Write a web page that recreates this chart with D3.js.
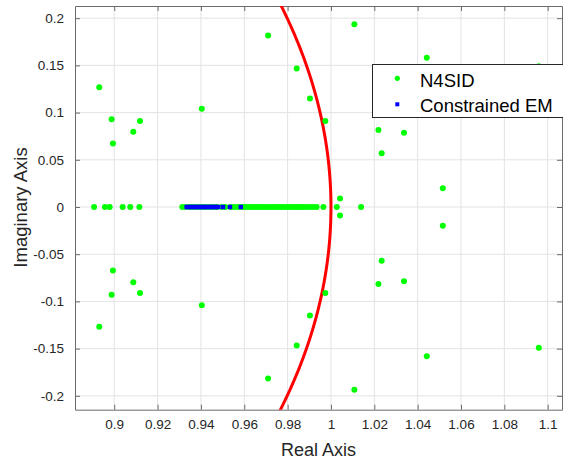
<!DOCTYPE html>
<html><head><meta charset="utf-8">
<script src="https://cdn.jsdelivr.net/npm/d3@7"></script>
<style>body{margin:0;background:#fff}svg{display:block}text{font-family:"Liberation Sans",Arial,Helvetica,sans-serif}</style>
</head><body>
<svg id="c" width="563" height="460"></svg>
<script>
// ---- data ----
const xTicks = [0.9, 0.92, 0.94, 0.96, 0.98, 1, 1.02, 1.04, 1.06, 1.08, 1.1];
const yTicks = [-0.2, -0.15, -0.1, -0.05, 0, 0.05, 0.1, 0.15, 0.2];
const xTickLabels = ["0.9","0.92","0.94","0.96","0.98","1","1.02","1.04","1.06","1.08","1.1"];
const yTickLabels = ["-0.2","-0.15","-0.1","-0.05","0","0.05","0.1","0.15","0.2"];
const seriesNames = ["N4SID", "Constrained EM"];
// N4SID real poles
const n4sidReal = [0.8907, 0.8957, 0.8979, 0.9039, 0.9074, 0.9116,
  0.9314, 0.9331, 0.9348, 0.9362, 0.9377, 0.9395, 0.9409, 0.9423, 0.9441, 0.9458,
  0.9474, 0.9497, 0.9512, 0.9536, 0.9551, 0.9566, 0.9580, 0.9594, 0.9607, 0.9621,
  0.9633, 0.9648, 0.9661, 0.9675, 0.9688, 0.9702, 0.9715, 0.9729, 0.9742, 0.9756,
  0.9769, 0.9783, 0.9796, 0.9810, 0.9823, 0.9837, 0.9850, 0.9862, 0.9873,
  0.9888, 0.9903, 0.9919, 0.9934, 0.9965, 1.0027, 1.0139];
// N4SID complex poles (conjugate pairs)
const n4sidCplxRe = [0.8931, 0.8988, 0.8994, 0.9088, 0.9119, 0.9404, 0.9710, 0.9842, 0.9903,
  0.9974, 1.0042, 1.0108, 1.0219, 1.0234, 1.0337, 1.0442, 1.0516, 1.0959];
const n4sidCplxIm = [0.1268, 0.0929, 0.0673, 0.0796, 0.0910, 0.1040, 0.1817, 0.1467, 0.1149,
  0.0910, 0.0090, 0.1937, 0.0816, 0.0569, 0.0787, 0.1580, 0.0198, 0.1490];
// Constrained EM poles (all real)
const emReal = [0.9334, 0.9342, 0.9351, 0.9360, 0.9368, 0.9377, 0.9386, 0.9394, 0.9403,
  0.9411, 0.9420, 0.9429, 0.9437, 0.9446, 0.9455, 0.9463, 0.9472, 0.9480, 0.9502, 0.9534, 0.9584];

// ---- layout ----
const L = 75, R = 562, T = 6, B = 409.7;
const x = d3.scaleLinear().domain([0.8819, 1.1066]).range([L, R]);
const y = d3.scaleLinear().domain([-0.2147, 0.2129]).range([B, T]);
const svg = d3.select("#c");
const axisCol = "#6b6b6b", textCol = "#262626", gridCol = "#e3e3e3";

// grid
svg.append("g").selectAll("line").data(xTicks).join("line")
  .attr("x1", d => x(d)).attr("x2", d => x(d)).attr("y1", T).attr("y2", B)
  .attr("stroke", gridCol).attr("stroke-width", 1);
svg.append("g").selectAll("line").data(yTicks).join("line")
  .attr("y1", d => y(d)).attr("y2", d => y(d)).attr("x1", L).attr("x2", R)
  .attr("stroke", gridCol).attr("stroke-width", 1);

// axes (box with inner ticks)
const fmtX = d => xTickLabels[xTicks.indexOf(d)];
const fmtY = d => yTickLabels[yTicks.indexOf(d)];
function styleAxis(g){ g.selectAll("path").attr("stroke", axisCol); g.selectAll("line").attr("stroke", axisCol);
  g.selectAll("text").attr("fill", textCol).style("font-size","13.5px"); }
svg.append("g").attr("transform", `translate(0,${B})`)
  .call(d3.axisBottom(x).tickValues(xTicks).tickFormat(fmtX).tickSizeInner(-5).tickSizeOuter(0).tickPadding(10))
  .call(styleAxis);
svg.append("g").attr("transform", `translate(0,${T})`)
  .call(d3.axisTop(x).tickValues(xTicks).tickFormat("").tickSizeInner(-5).tickSizeOuter(0))
  .call(styleAxis);
svg.append("g").attr("transform", `translate(${L},0)`)
  .call(d3.axisLeft(y).tickValues(yTicks).tickFormat(fmtY).tickSizeInner(-5).tickSizeOuter(0).tickPadding(11))
  .call(styleAxis);
svg.append("g").attr("transform", `translate(${R},0)`)
  .call(d3.axisRight(y).tickValues(yTicks).tickFormat("").tickSizeInner(-5).tickSizeOuter(0))
  .call(styleAxis);

const plot = svg.append("g");
// unit circle
const clip = svg.append("clipPath").attr("id","clp").append("rect")
  .attr("x", L).attr("y", T).attr("width", R-L).attr("height", B-T);
const thetas = d3.range(-0.3, 0.3001, 0.002);
plot.append("path").attr("clip-path","url(#clp)")
  .attr("d", d3.line().x(t => x(Math.cos(t))).y(t => y(Math.sin(t)))(thetas))
  .attr("fill","none").attr("stroke","#ff0000").attr("stroke-width",3);

// N4SID points
const greenPts = n4sidReal.map(v => [v, 0])
  .concat(n4sidCplxRe.map((v,i) => [v, n4sidCplxIm[i]]))
  .concat(n4sidCplxRe.map((v,i) => [v, -n4sidCplxIm[i]]));
plot.append("g").selectAll("circle").data(greenPts).join("circle")
  .attr("cx", d => x(d[0])).attr("cy", d => y(d[1])).attr("r", 3).attr("fill", "#00ff00");
// Constrained EM points
plot.append("g").selectAll("rect").data(emReal).join("rect")
  .attr("x", d => x(d) - 2.2).attr("y", y(0) - 2.2).attr("width", 4.4).attr("height", 4.4).attr("fill", "#0000ff");

// legend
const lg = svg.append("g");
lg.append("rect").attr("x", 372.5).attr("y", 64.5).attr("width", 240).attr("height", 53)
  .attr("fill","#fff").attr("stroke", textCol).attr("stroke-width", 1);
lg.append("circle").attr("cx", 397.3).attr("cy", 78.3).attr("r", 2.6).attr("fill", "#00ff00");
lg.append("rect").attr("x", 395.3).attr("y", 102.3).attr("width", 4).attr("height", 4).attr("fill", "#0000ff");
lg.selectAll("text").data(seriesNames).join("text")
  .attr("x", 420).attr("y", (d,i) => 86.7 + i*25)
  .attr("fill", "#000").style("font-size","18.5px").text(d => d);

// axis labels
svg.append("text").attr("x", 318.5).attr("y", 455.5).attr("text-anchor","middle")
  .attr("fill", textCol).style("font-size","18px").text("Real Axis");
svg.append("text").attr("transform","translate(27,207.5) rotate(-90)").attr("text-anchor","middle")
  .attr("fill", textCol).style("font-size","18.5px").text("Imaginary Axis");
</script>
</body></html>
